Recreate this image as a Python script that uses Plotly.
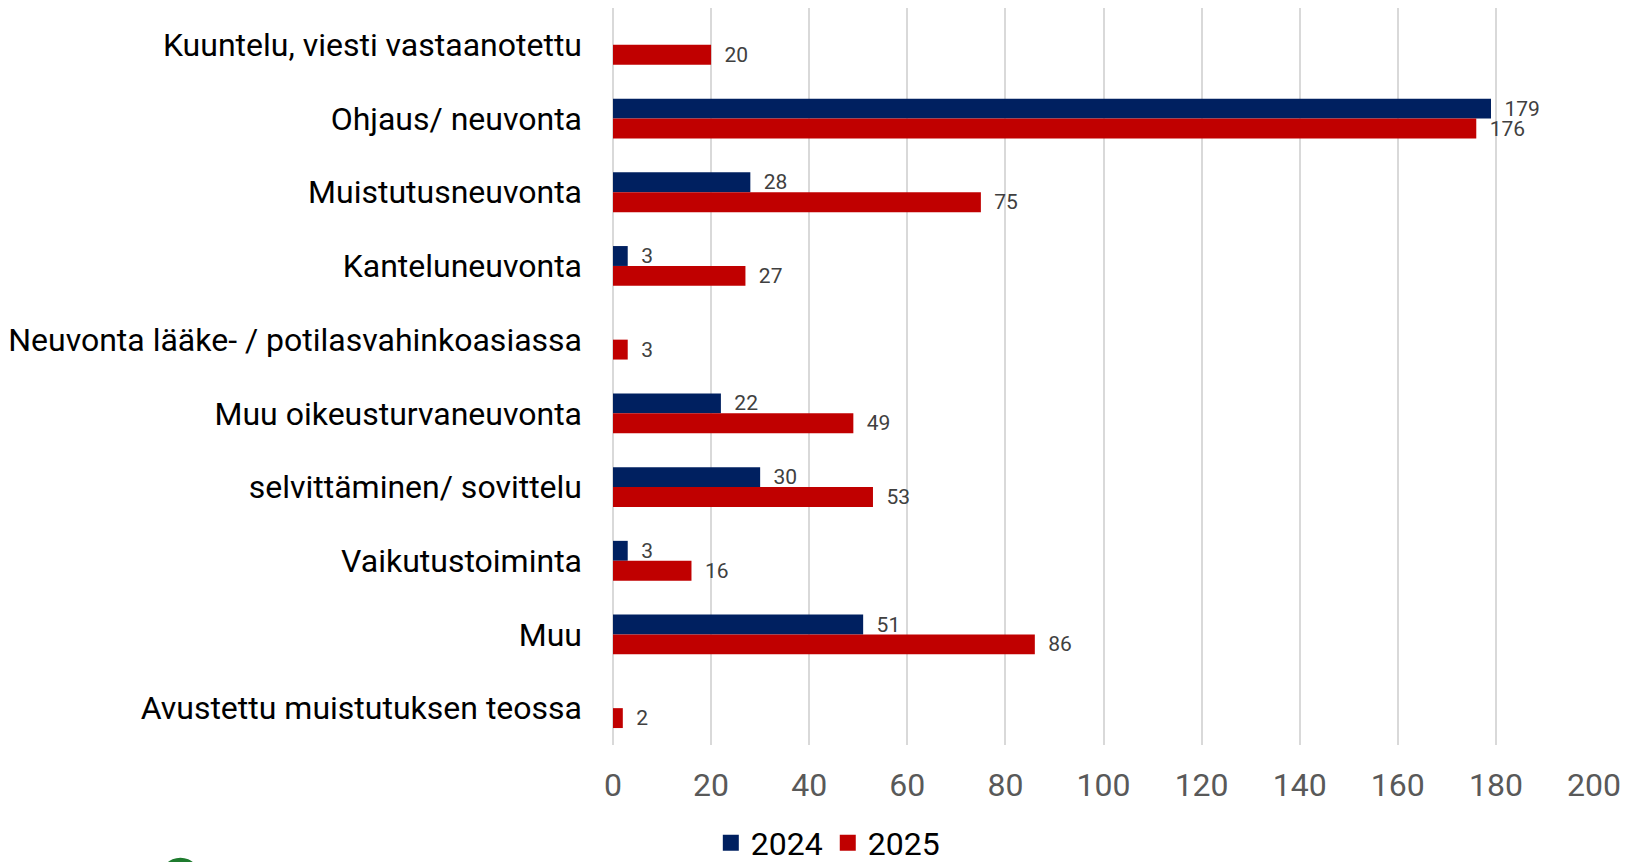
import plotly.graph_objects as go

categories = [
    "Kuuntelu, viesti vastaanotettu",
    "Ohjaus/ neuvonta",
    "Muistutusneuvonta",
    "Kanteluneuvonta",
    "Neuvonta lääke- / potilasvahinkoasiassa",
    "Muu oikeusturvaneuvonta",
    "selvittäminen/ sovittelu",
    "Vaikutustoiminta",
    "Muu",
    "Avustettu muistutuksen teossa",
]
values_2024 = [None, 179, 28, 3, None, 22, 30, 3, 51, None]
values_2025 = [20, 176, 75, 27, 3, 49, 53, 16, 86, 2]
x_ticks = [0, 20, 40, 60, 80, 100, 120, 140, 160, 180, 200]

BLUE = "#002060"
RED = "#C00000"
PAD = "\u00a0\u00a0"

fig = go.Figure()
for name, vals, col in [("2024", values_2024, BLUE), ("2025", values_2025, RED)]:
    fig.add_trace(go.Bar(
        name=name, y=categories, x=vals, orientation="h",
        marker=dict(color=col, line=dict(width=0)),
        text=[None if v is None else f"{PAD}{v}" for v in vals],
        textposition="outside", cliponaxis=False, constraintext="none",
        textfont=dict(family="Roboto", size=21, color="#404040"),
        showlegend=False,
    ))
# legend entries with larger square swatches
for name, col in [("2024", BLUE), ("2025", RED)]:
    fig.add_trace(go.Scatter(
        name=name, x=[None], y=[None], mode="markers",
        marker=dict(symbol="square", size=19, color=col), showlegend=True,
    ))

fig.update_layout(
    width=1636, height=862,
    barmode="group", bargap=0.46, bargroupgap=0,
    plot_bgcolor="white", paper_bgcolor="white",
    margin=dict(l=613, r=42, t=8, b=117),
    font=dict(family="Roboto", color="#000000"),
    legend=dict(
        orientation="h", xref="container", yref="container",
        x=0.506, xanchor="center", y=0.022, yanchor="middle",
        font=dict(family="Roboto", size=32, color="#000000"),
        itemwidth=30, tracegroupgap=0, bgcolor="rgba(0,0,0,0)",
    ),
)
fig.update_xaxes(
    range=[0, 200], tickvals=x_ticks, showgrid=True, gridcolor="#D9D9D9", gridwidth=2,
    zeroline=True, zerolinecolor="#D9D9D9", zerolinewidth=2, showline=False,
    tickfont=dict(family="Roboto", size=32, color="#595959"), ticks="", ticklabelstandoff=18,
)
fig.update_yaxes(
    categoryorder="array", categoryarray=categories, autorange="reversed",
    showgrid=False, zeroline=False, showline=False, ticks="",
    tickfont=dict(family="Roboto", size=32, color="#000000"), ticklabelstandoff=30,
)
fig.add_shape(type="circle", xref="paper", yref="paper",
              x0=-0.462, x1=-0.42, y0=-0.21, y1=-0.153,
              fillcolor="#1E7B2E", line=dict(width=0), layer="above")

fig.write_html(
    "out.html",
    config={"displayModeBar": False},
    post_script="document.body.style.margin='0';document.body.style.overflow='hidden';",
)
